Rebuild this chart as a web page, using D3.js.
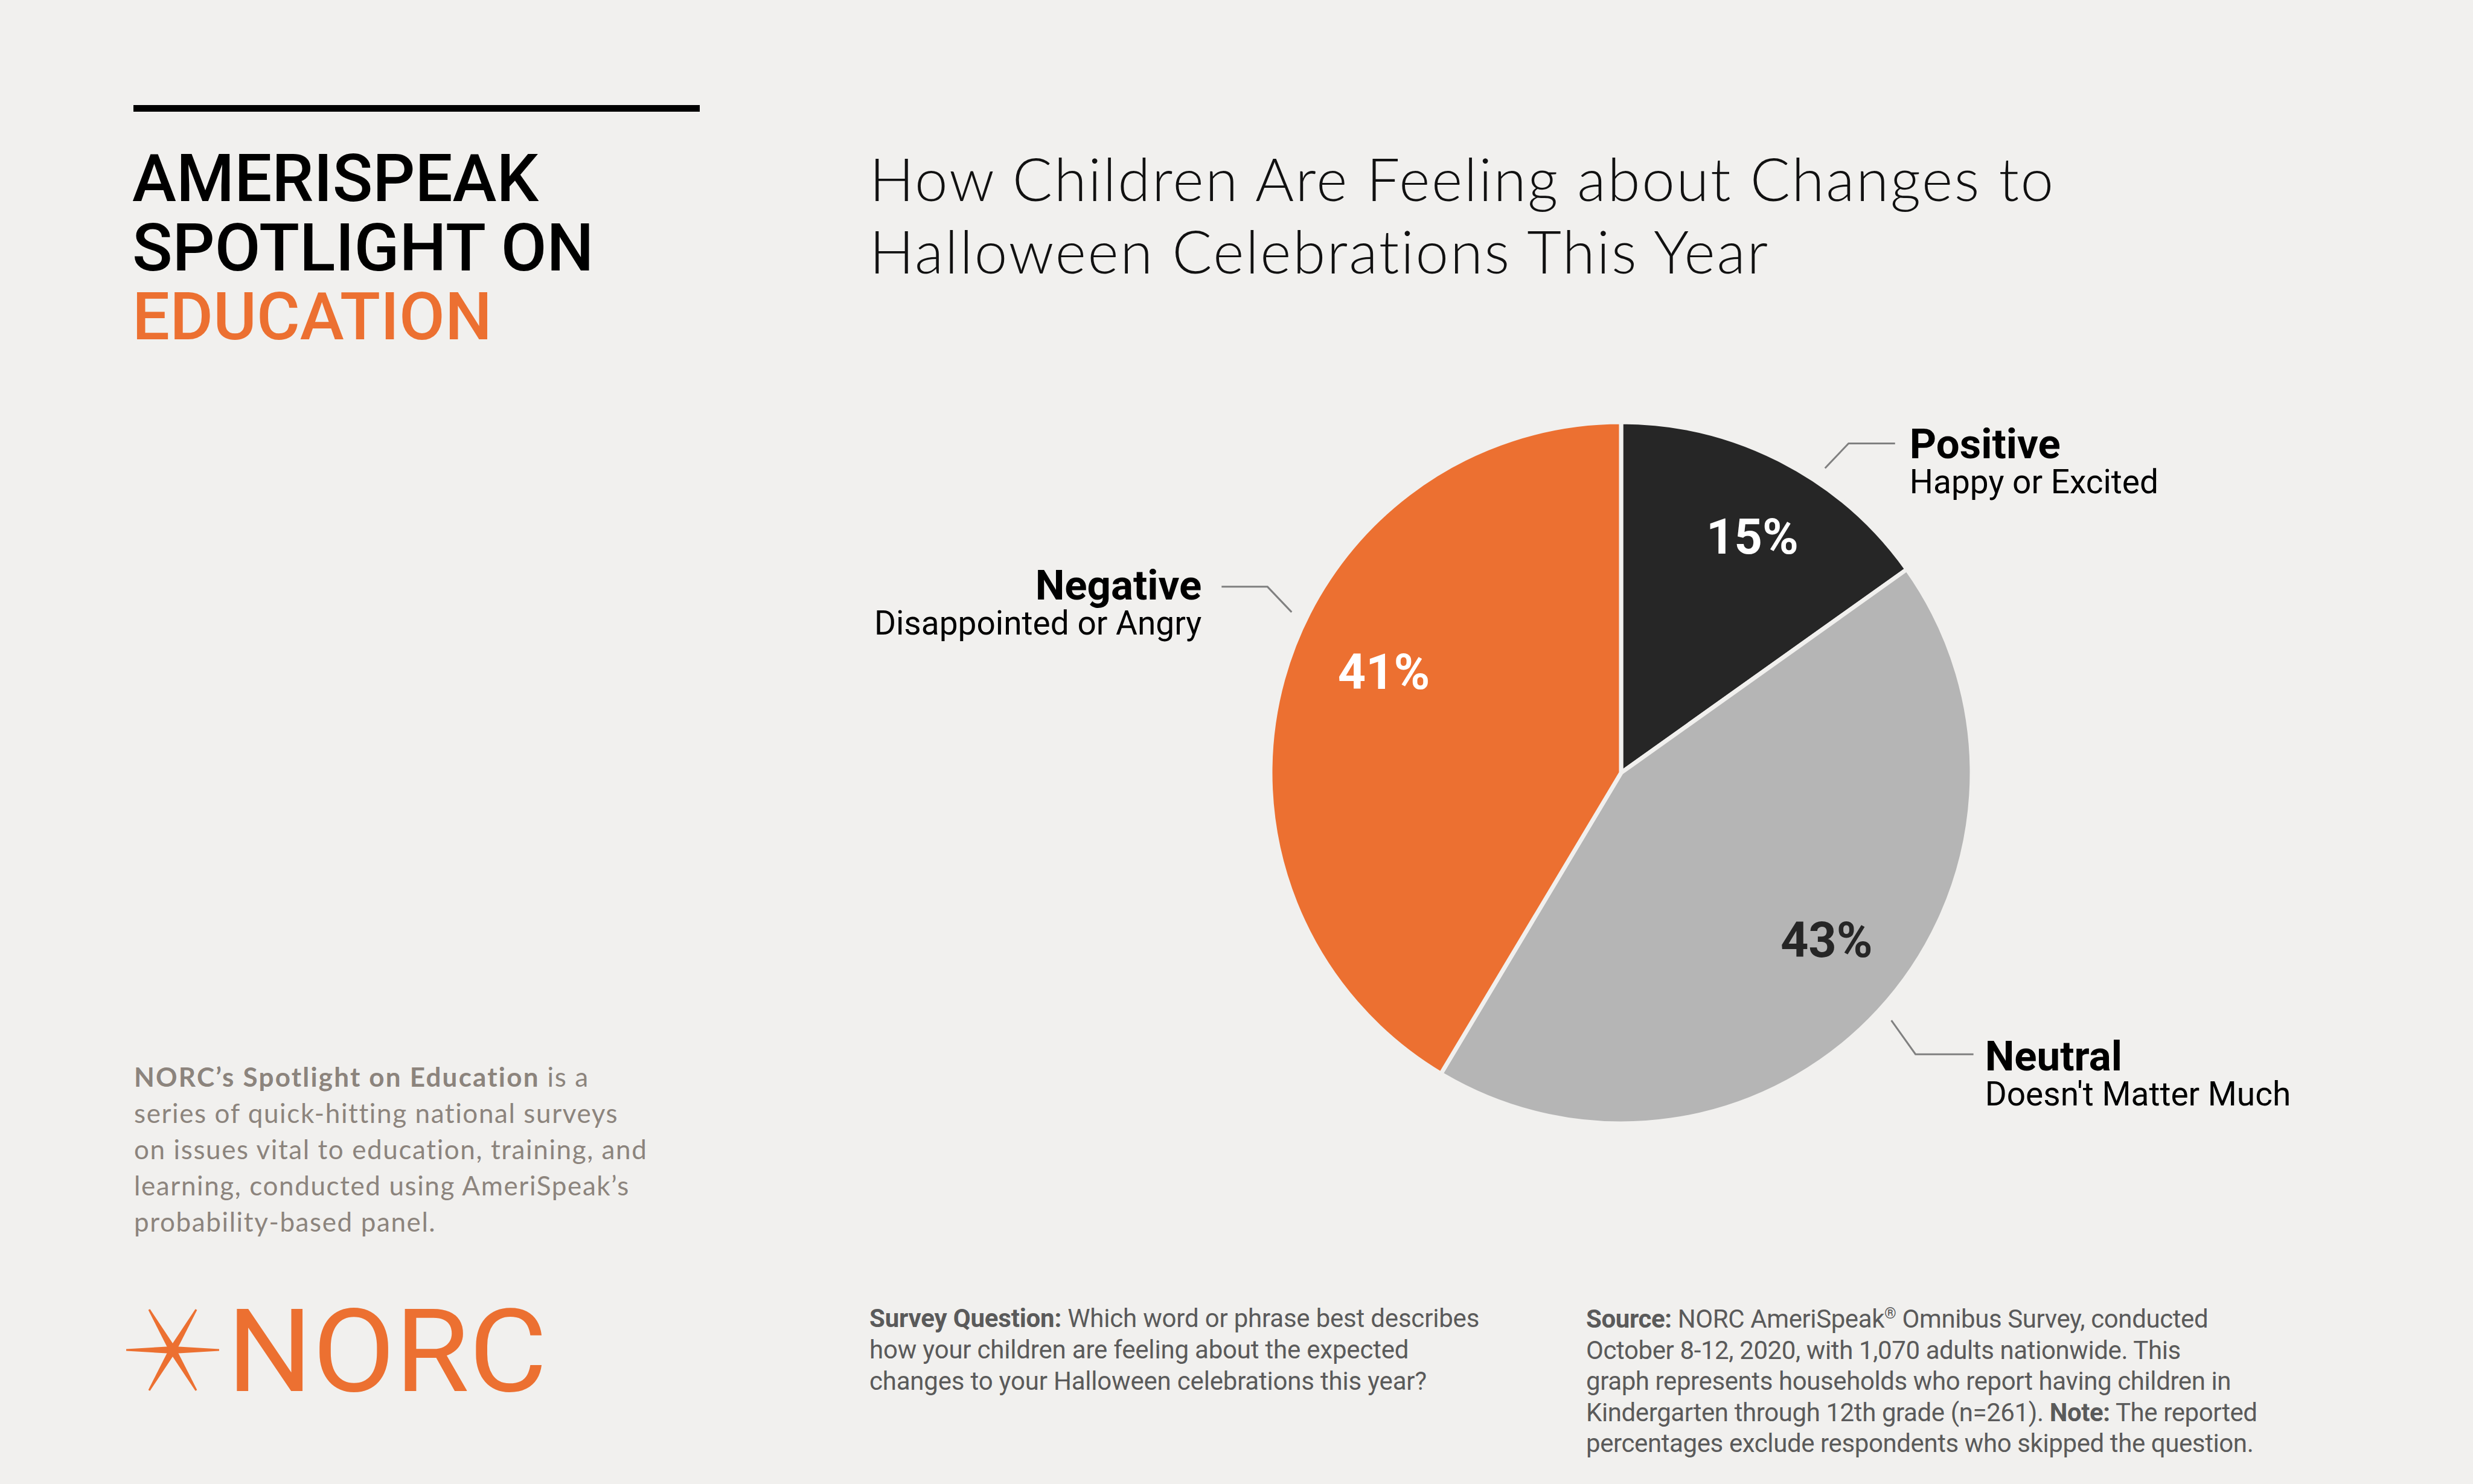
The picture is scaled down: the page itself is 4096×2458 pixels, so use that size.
<!DOCTYPE html>
<html>
<head>
<meta charset="utf-8">
<script src="https://cdn.jsdelivr.net/npm/d3@7"></script>
<style>
  html, body { margin: 0; padding: 0; background: #F1F0EE; }
  svg { display: block; }
</style>
</head>
<body>
<svg id="chart" width="4096" height="2458"></svg>
<script>
// ---------------- DATA ----------------
const categories = ["Positive", "Neutral", "Negative"];
const subtitles = ["Happy or Excited", "Doesn't Matter Much", "Disappointed or Angry"];
const values = [15, 43, 41];
const valueLabels = ["15%", "43%", "41%"];
const sliceColors = ["#262626", "#B5B5B5", "#EC7031"];
const valueTextColors = ["#FFFFFF", "#262626", "#FFFFFF"];

const titleLines = ["How Children Are Feeling about Changes to", "Halloween Celebrations This Year"];
const headerLines = ["AMERISPEAK", "SPOTLIGHT ON", "EDUCATION"];
const blurbLines = [
  [["NORC\u2019s Spotlight on Education", true], [" is a", false]],
  [["series of quick-hitting national surveys", false]],
  [["on issues vital to education, training, and", false]],
  [["learning, conducted using AmeriSpeak\u2019s", false]],
  [["probability-based panel.", false]]
];
const questionLines = [
  [["Survey Question:", true], [" Which word or phrase best describes", false]],
  [["how your children are feeling about the expected", false]],
  [["changes to your Halloween celebrations this year?", false]]
];
const sourceLines = [
  [["Source:", true], [" NORC AmeriSpeak", false], ["\u00AE", "sup"], [" Omnibus Survey, conducted", false]],
  [["October 8-12, 2020, with 1,070 adults nationwide. This", false]],
  [["graph represents households who report having children in", false]],
  [["Kindergarten through 12th grade (n=261). ", false], ["Note:", true], [" The reported", false]],
  [["percentages exclude respondents who skipped the question.", false]]
];

// ---------------- LAYOUT ----------------
const W = 4096, H = 2458;
const BG = "#F1F0EE";
const ORANGE = "#EC7031";
const svg = d3.select("#chart");
svg.append("rect").attr("width", W).attr("height", H).attr("fill", BG);

// Left header block
svg.append("rect").attr("x", 221).attr("y", 174).attr("width", 938).attr("height", 11).attr("fill", "#000");
const header = svg.append("text").attr("font-family", "Roboto, sans-serif").attr("font-weight", 500).attr("font-size", 110);
headerLines.forEach((t, i) => {
  header.append("tspan").attr("x", 219).attr("y", 333 + i * 114.5)
    .attr("fill", i === 2 ? ORANGE : "#000").text(t);
});

// Title
const title = svg.append("g").attr("font-family", "Lato, sans-serif").attr("font-weight", 300)
  .attr("font-size", 98).attr("fill", "#111").attr("letter-spacing", 2.7);
titleLines.forEach((t, i) => {
  title.append("text").attr("x", 1440).attr("y", 333 + i * 120).text(t);
});

// Rich text helper
function richText(g, lines, x, y0, lh, opts) {
  lines.forEach((segs, i) => {
    const t = g.append("text").attr("x", x).attr("y", y0 + i * lh);
    segs.forEach(([s, style], j) => {
      const ts = t.append("tspan").text(s);
      if (style === true) {
        ts.attr("font-weight", opts.boldWeight || 700);
        if (opts.boldSpacing !== undefined) ts.attr("letter-spacing", opts.boldSpacing);
      }
      if (style === "sup") ts.attr("font-size", opts.size * 0.6).attr("dy", -opts.size * 0.35);
      if (j > 0 && segs[j - 1][1] === "sup") ts.attr("dy", opts.size * 0.35);
    });
  });
}

// Blurb
const blurb = svg.append("g").attr("font-family", "Lato, sans-serif").attr("font-size", 44)
  .attr("fill", "#8C847D").attr("letter-spacing", 1.6);
richText(blurb, blurbLines, 222, 1800, 60, { size: 44, boldWeight: 700, boldSpacing: 2.2 });

// NORC logo
const logo = svg.append("g");
const sc = [286, 2236];
const arms = [[77, 0], [-77, 0], [39, -67], [-39, -67], [39, 67], [-39, 67]];
arms.forEach(([dx, dy]) => {
  const len = Math.hypot(dx, dy), ux = dx / len, uy = dy / len, px = -uy, py = ux;
  const tipW = 1.6, baseW = 5.5;
  const pts = [
    [sc[0] + dx + px * tipW, sc[1] + dy + py * tipW],
    [sc[0] + dx - px * tipW, sc[1] + dy - py * tipW],
    [sc[0] + ux * 10 - px * baseW, sc[1] + uy * 10 - py * baseW],
    [sc[0] - px * baseW, sc[1] - py * baseW],
    [sc[0] + px * baseW, sc[1] + py * baseW],
    [sc[0] + ux * 10 + px * baseW, sc[1] + uy * 10 + py * baseW]
  ];
  logo.append("path").attr("d", "M" + pts.map(p => p.join(",")).join("L") + "Z").attr("fill", ORANGE);
});
logo.append("circle").attr("cx", sc[0]).attr("cy", sc[1]).attr("r", 9).attr("fill", ORANGE);
logo.append("text").attr("x", 376).attr("y", 2304).attr("font-family", "Roboto, sans-serif")
  .attr("font-weight", 400).attr("font-size", 191).attr("fill", ORANGE).attr("textLength", 530)
  .attr("lengthAdjust", "spacingAndGlyphs").text("NORC");

// Footers
const q = svg.append("g").attr("font-family", "Roboto, sans-serif").attr("font-size", 42).attr("fill", "#5A5A5A").attr("letter-spacing", -0.2);
richText(q, questionLines, 1440, 2198, 52, { size: 42, boldWeight: 700 });
const s = svg.append("g").attr("font-family", "Roboto, sans-serif").attr("font-size", 42).attr("fill", "#5A5A5A").attr("letter-spacing", -0.4);
richText(s, sourceLines, 2627, 2199, 51.5, { size: 42, boldWeight: 700 });

// ---------------- PIE ----------------
const cx = 2685, cy = 1280, R = 581;
const data = categories.map((c, i) => ({ cat: c, sub: subtitles[i], value: values[i], label: valueLabels[i], color: sliceColors[i], tcolor: valueTextColors[i] }));
const pie = d3.pie().sort(null).value(d => d.value);
const arcs = pie(data);
const arc = d3.arc().innerRadius(0).outerRadius(R);
const gPie = svg.append("g").attr("transform", `translate(${cx},${cy})`);
gPie.selectAll("path.slice").data(arcs).join("path").attr("class", "slice")
  .attr("d", arc).attr("fill", d => d.data.color).attr("stroke", BG).attr("stroke-width", 7).attr("stroke-linejoin", "round");

// value labels: placed around each slice's centroid (angle nudge in degrees, radius as fraction of R)
const labelPlace = { Positive: [1.8, 0.77], Neutral: [-3.6, 0.755], Negative: [7.6, 0.735] };
gPie.selectAll("text.val").data(arcs).join("text").attr("class", "val")
  .attr("transform", d => {
    const [nudge, rf] = labelPlace[d.data.cat];
    const a = (d.startAngle + d.endAngle) / 2 + nudge * Math.PI / 180;
    const r = R * rf;
    return `translate(${r * Math.sin(a)},${-r * Math.cos(a) + 28})`;
  })
  .attr("text-anchor", "middle").attr("font-family", "Roboto, sans-serif").attr("font-weight", 700)
  .attr("font-size", 81).attr("fill", d => d.data.tcolor).text(d => d.data.label);

// callouts
const callout = {
  Positive: { ang: 33.8, diag: [39, -41], hor: 77, side: 1, gap: 24, dy: 25 },
  Neutral: { ang: 132.5, diag: [40, 56], hor: 96, side: 1, gap: 19, dy: 27 },
  Negative: { ang: 296, diag: [-40, -42], hor: 76, side: -1, gap: 33, dy: 21 }
};
arcs.forEach(d => {
  const c = callout[d.data.cat];
  const a = c.ang * Math.PI / 180, r0 = R * 1.045;
  const x0 = r0 * Math.sin(a), y0 = -r0 * Math.cos(a);
  const x1 = x0 + c.diag[0], y1 = y0 + c.diag[1];
  const x2 = x1 + c.side * c.hor;
  gPie.append("path").attr("d", `M${x0},${y0}L${x1},${y1}L${x2},${y1}`)
    .attr("fill", "none").attr("stroke", "#808080").attr("stroke-width", 3);
  const tx = x2 + c.side * c.gap;
  const anchor = c.side > 0 ? "start" : "end";
  const t = gPie.append("text").attr("text-anchor", anchor)
    .attr("font-family", "Roboto, sans-serif").attr("fill", "#000");
  t.append("tspan").attr("x", tx).attr("y", y1 + c.dy)
    .attr("font-weight", 700).attr("font-size", 69).text(d.data.cat);
  t.append("tspan").attr("x", tx).attr("y", y1 + c.dy + 58)
    .attr("font-weight", 400).attr("font-size", 55).text(d.data.sub);
});
</script>
</body>
</html>
